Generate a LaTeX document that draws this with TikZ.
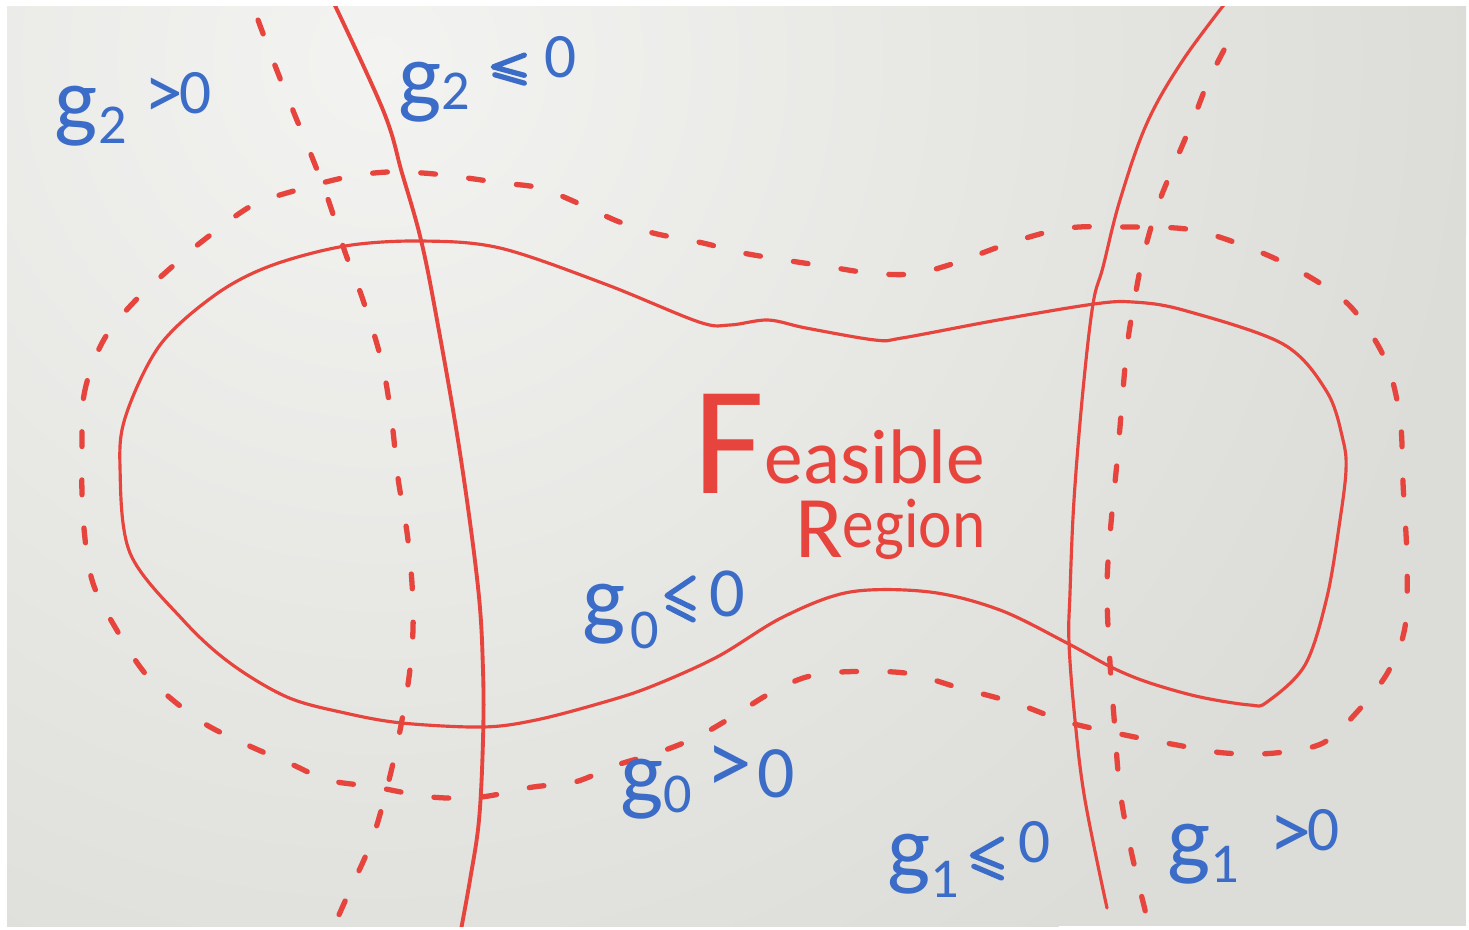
\documentclass[tikz,border=0pt]{standalone}
\usepackage{fontspec}
\usepackage{graphicx}
\setmainfont{Carlito}
\definecolor{mkred}{HTML}{E6443C}
\definecolor{mkblue}{HTML}{3A6CC8}
\definecolor{wb}{HTML}{DCDCD8}
\definecolor{wblight}{HTML}{F3F3F1}
\newcommand{\subsz}{\fontsize{16}{16}\selectfont}
\newcommand{\relsz}{\fontsize{18}{18}\selectfont}
\newcommand{\mkleq}[2]{\tikz[x=#1cm,y=#2cm,baseline=0pt]{\draw[mkblue, line width=1.5pt, line cap=round, line join=round] (1,1)--(0,0.58)--(1,0.28) (0.05,0.3)--(1,0);}}
\tikzset{
  solidmk/.style={draw=mkred, line width=0.9pt, line cap=round, line join=round},
  heavymk/.style={draw=mkred, line width=1.1pt, line cap=round, line join=round},
  dashmk/.style={draw=mkred, line width=1.5pt, line cap=round, dash pattern=on 4.2pt off 9.5pt},
  lbl/.style={text=mkblue, inner sep=0pt, anchor=base west, font=\fontsize{26}{26}\selectfont},
  feas/.style={text=mkred, inner sep=0pt, anchor=base west}
}
\begin{document}
\begin{tikzpicture}[x=0.01cm,y=-0.01cm]
\useasboundingbox (0,0) rectangle (1469,929);
\fill[white] (0,0) rectangle (1469,929);
\begin{scope}
\clip (7,6) rectangle (1466,926);
\fill[wb] (7,6) rectangle (1466,926);
\shade[inner color=wblight, outer color=wb] (380,60) circle[radius=11cm];
% feasible region boundary g0 = 0
\draw[solidmk] plot[smooth cycle, tension=0.55] coordinates {
 (120,467) (126,415) (160,345) (215,295) (270,266) (345,246) (421,241) (500,248)
 (605,284) (699,322) (730,325) (768,320) (806,328) (875,340) (902,338)
 (998,320) (1094,304) (1133,302) (1183,310) (1283,344) (1327,392)
 (1343,440) (1346,470) (1340,520) (1327,597) (1305,665) (1267,702)
 (1250,705) (1200,697) (1150,683) (1113,668) (1067,643) (1000,610)
 (930,592) (850,592) (783,617) (717,657) (650,687) (601,703) (536,720)
 (483,727) (402,723) (345,713) (287,697) (230,663) (183,620) (130,553)};
% dashed outer contour
\draw[dashmk] plot[smooth cycle, tension=0.55] coordinates {
 (82,457) (84,395) (102,343) (133,303) (182,258) (213,233) (253,205)
 (297,190) (347,177) (387,172) (423,173) (460,177) (502,183) (540,188)
 (580,204) (617,221) (653,233) (703,243) (738,252) (778,259) (824,266)
 (870,273) (912,274) (952,264) (1013,242) (1068,228) (1128,227)
 (1193,230) (1255,250) (1303,273) (1350,306) (1385,359) (1400,418)
 (1403,483) (1407,560) (1405,627) (1388,672) (1357,712) (1323,743)
 (1275,753) (1225,753) (1177,745) (1125,735) (1067,722) (1015,703)
 (960,688) (905,673) (840,672) (803,678) (767,695) (732,717) (697,737)
 (657,753) (617,765) (575,782) (533,787) (481,797) (431,797) (375,787)
 (328,780) (289,763) (243,743) (199,720) (149,678) (115,627) (92,580)
 (83,517)};
% g2 = 0 boundary
\draw[heavymk] plot[smooth, tension=0.6] coordinates {
 (330,-5) (383,110) (402,173) (421,240) (437,320) (460,453) (478,587)
 (483,670) (483,740) (479,820) (470,880) (460,935)};
% g2 dashed
\draw[dashmk] plot[smooth, tension=0.6] coordinates {
 (258,20) (276,68) (294,113) (312,157) (329,202) (345,252) (363,300)
 (382,363) (392,423) (398,478) (408,540) (413,605) (411,660) (402,720)
 (389,780) (372,840) (350,890) (330,935)};
% g1 = 0 boundary
\draw[solidmk] plot[smooth, tension=0.6] coordinates {
 (1230,-3) (1183,60) (1147,123) (1120,200) (1103,267) (1093,304)
 (1083,390) (1074,500) (1070,593) (1069,643) (1075,720) (1085,800)
 (1107,908)};
% g1 dashed
\draw[dashmk] plot[smooth, tension=0.6] coordinates {
 (1224,50) (1208,82) (1193,120) (1172,170) (1157,208) (1143,257)
 (1135,297) (1127,347) (1122,403) (1117,462) (1110,535) (1107,592)
 (1110,663) (1114,717) (1120,790) (1132,855) (1150,930)};
\end{scope}
% labels
\node[lbl] (lg2pos) at (54,130) {g\hspace{0.3pt}\raisebox{-3.7pt}{\subsz 2}\hspace{5pt}\raisebox{3.4pt}{\fontsize{22}{22}\selectfont >}\hspace{-1pt}\raisebox{4.8pt}{\relsz 0}};
\node[lbl] (lg2neg) at (398,106) {g\raisebox{-1.1pt}{\subsz 2}\hspace{5.8pt}\raisebox{6.5pt}{\mkleq{0.31}{0.28}}\hspace{5pt}\raisebox{8pt}{\relsz 0}};
\node[lbl] (lg0neg) at (582,628) {g\hspace{1.4pt}\raisebox{-5.7pt}{\subsz 0}\hspace{1.5pt}\raisebox{2.3pt}{\mkleq{0.26}{0.42}}\hspace{4pt}\raisebox{3.4pt}{\fontsize{20}{20}\selectfont 0}};
\node[lbl] (lg0pos) at (620,803) {g\raisebox{-2.6pt}{\subsz 0}\hspace{4pt}\raisebox{2.8pt}{\fontsize{26}{26}\selectfont >}\hspace{1.5pt}\raisebox{1.7pt}{\fontsize{21}{21}\selectfont 0}};
\node[lbl] (lg1neg) at (887,878) {g\raisebox{-5.4pt}{\subsz 1}\hspace{3pt}\raisebox{0pt}{\mkleq{0.29}{0.39}}\hspace{4pt}\raisebox{4.3pt}{\relsz 0}};
\node[lbl] (lg1pos) at (1167,868) {g\raisebox{-4pt}{\subsz 1}\hspace{8.5pt}\raisebox{2.3pt}{\fontsize{24}{24}\selectfont >}\hspace{-1pt}\raisebox{5pt}{\relsz 0}};
\node[feas] (feasible) at (693,493) {{\fontsize{44}{44}\selectfont F}\raisebox{2.8pt}{\fontsize{22}{22}\selectfont easible}\llap{\raisebox{-18.4pt}{{\fontsize{25}{25}\selectfont R}\raisebox{2.8pt}{\fontsize{20}{20}\selectfont \scalebox{0.9}[1]{egion}}}}};
\end{tikzpicture}
\end{document}
